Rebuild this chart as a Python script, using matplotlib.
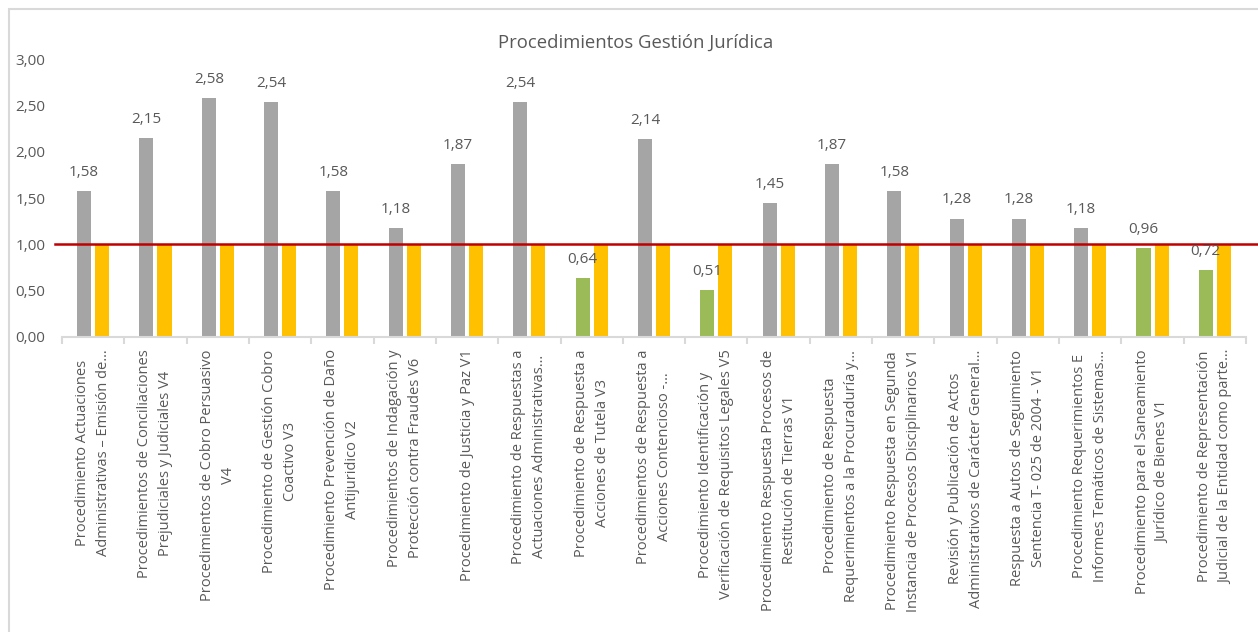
import matplotlib
matplotlib.use("Agg")
import matplotlib.pyplot as plt
from matplotlib.patches import Rectangle
from matplotlib.ticker import FixedLocator, FuncFormatter

plt.rcParams['font.family'] = ['Open Sans', 'DejaVu Sans']

categories = [
    "Procedimiento Actuaciones\nAdministrativas – Emisión de…",
    "Procedimientos de Conciliaciones\nPrejudiciales y Judiciales V4",
    "Procedimientos de Cobro Persuasivo\nV4",
    "Procedimiento de Gestión Cobro\nCoactivo V3",
    "Procedimiento Prevención de Daño\nAntijuridico V2",
    "Procedimientos de Indagación y\nProtección contra Fraudes V6",
    "Procedimiento de Justicia y Paz V1",
    "Procedimiento de Respuestas a\nActuaciones Administrativas…",
    "Procedimiento de Respuesta a\nAcciones de Tutela V3",
    "Procedimientos de Respuesta a\nAcciones Contencioso -…",
    "Procedimiento Identificación y\nVerificación de Requisitos Legales V5",
    "Procedimiento Respuesta Procesos de\nRestitución de Tierras V1",
    "Procedimiento de Respuesta\nRequerimientos a la Procuraduría y…",
    "Procedimiento Respuesta en Segunda\nInstancia de Procesos Disciplinarios V1",
    "Revisión y Publicación de Actos\nAdministrativos de Carácter General…",
    "Respuesta a Autos de Seguimiento\nSentencia T- 025 de 2004 - V1",
    "Procedimiento Requerimientos E\nInformes Temáticos de Sistemas…",
    "Procedimiento para el Saneamiento\nJurídico de Bienes V1",
    "Procedimiento de Representación\nJudicial de la Entidad como parte…",
]
resultado = [1.58, 2.15, 2.58, 2.54, 1.58, 1.18, 1.87, 2.54, 0.64, 2.14,
             0.51, 1.45, 1.87, 1.58, 1.28, 1.28, 1.18, 0.96, 0.72]
meta = [1.00] * len(categories)
umbral = 1.00
title = "Procedimientos Gestión Jurídica"

TEXT = "#595959"
GRAY = "#a5a5a5"
GREEN = "#9bbb59"
YELLOW = "#ffc000"
RED = "#c00000"
BORDER = "#d9d9d9"

W, H = 1258, 632
fig = plt.figure(figsize=(W / 100, H / 100), dpi=100)
fig.patch.set_facecolor("white")

# chart border (Excel chart area)
fig.patches.append(Rectangle((9 / W, -0.1), 1.2, 1 - 9 / H + 0.1,
                             transform=fig.transFigure, fill=False,
                             edgecolor=BORDER, linewidth=1.5))

ax = fig.add_axes([62 / W, 1 - 337 / H, (1246 - 62) / W, (337 - 59.3) / H])

x = list(range(len(categories)))
bw = 0.225
off = 0.145
colors = [GREEN if v < umbral else GRAY for v in resultado]
ax.bar([i - off for i in x], resultado, width=bw, color=colors, zorder=2)
ax.bar([i + off for i in x], meta, width=bw, color=YELLOW, zorder=2)

for i, v in zip(x, resultado):
    ax.annotate(f"{v:.2f}".replace(".", ","), (i - off, v),
                xytext=(0, 8), textcoords="offset points",
                ha="center", va="bottom", fontsize=11, color=TEXT, zorder=4)

ax.axhline(umbral, xmin=-0.006, xmax=1.05, color=RED, linewidth=1.8,
           clip_on=False, zorder=3)

ax.set_xlim(-0.5, len(categories) - 0.5)
ax.set_ylim(0, 3)
ax.yaxis.set_major_locator(FixedLocator([0, 0.5, 1, 1.5, 2, 2.5, 3]))
ax.yaxis.set_major_formatter(FuncFormatter(lambda v, p: f"{v:.2f}".replace(".", ",")))
ax.tick_params(axis="y", length=0, pad=12, labelsize=11, labelcolor=TEXT)

ax.set_xticks(x)
ax.set_xticklabels(categories, rotation=90, ha="center", va="top",
                   multialignment="center", fontsize=10.5, color=TEXT,
                   linespacing=1.55)
ax.set_xticks([i - 0.5 for i in range(len(categories) + 1)], minor=True)
ax.tick_params(axis="x", which="major", length=0, pad=9)
ax.tick_params(axis="x", which="minor", length=5, width=1.5, color=BORDER, direction="out")

for s in ["left", "right", "top"]:
    ax.spines[s].set_visible(False)
ax.spines["bottom"].set_color(BORDER)
ax.spines["bottom"].set_linewidth(1.5)

fig.text(636 / W, 1 - 43 / H, title, ha="center", va="center",
         fontsize=13.3, color=TEXT)

fig.savefig("out.png", dpi=100, facecolor="white")
